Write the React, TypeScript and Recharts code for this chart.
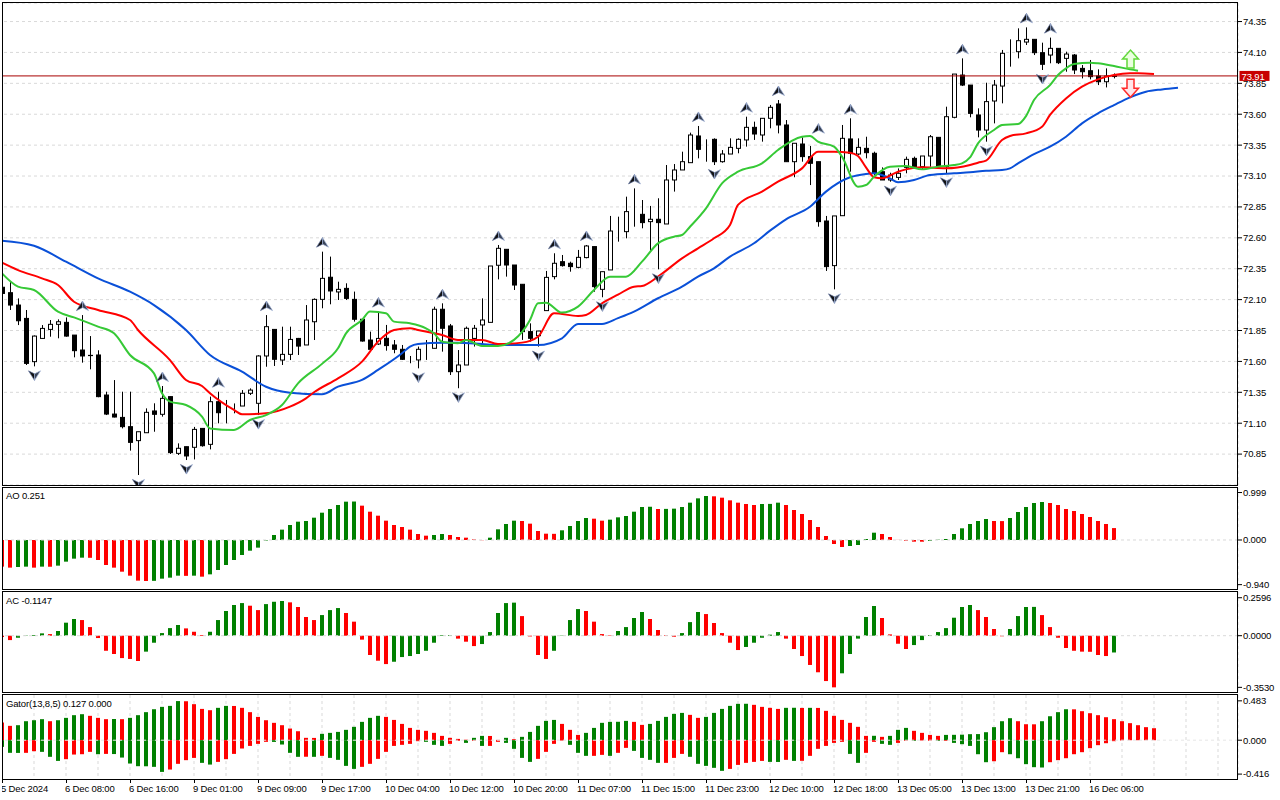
import React from "react";
import {
  ComposedChart,
  Bar,
  Line,
  XAxis,
  YAxis,
  CartesianGrid,
  ReferenceLine,
  Cell,
} from "recharts";

const FONT = '"Liberation Sans", Arial, sans-serif';
const UP = "#008000";
const DOWN = "#ff0000";
const GRID = "#d9d9d9";

// hourly candles, bar 0 .. 139
const OPEN = [
  72.2, 72.156, 72.056, 71.948, 71.598, 71.786, 71.859, 71.9, 71.916, 71.813,
  71.692, 71.647, 71.652, 71.328, 71.174, 71.147, 71.072, 70.959, 71.023, 71.199,
  71.172, 71.315, 70.856, 70.91, 70.905, 71.058, 70.929, 71.274, 71.226, 71.22,
  71.239, 71.342, 71.261, 71.644, 71.859, 71.611, 71.657, 71.786, 71.733, 71.921,
  72.102, 72.281, 72.162, 72.191, 72.102, 71.941, 71.773, 71.741, 71.787, 71.733,
  71.698, 71.617, 71.612, 71.698, 71.706, 72.022, 71.887, 71.517, 71.571, 71.786,
  71.895, 71.916, 72.378, 72.507, 72.38, 72.224, 71.841, 71.808, 72.011, 72.286,
  72.407, 72.394, 72.361, 72.44, 72.529, 72.183, 72.34, 72.658, 72.65, 72.798,
  72.79, 72.731, 72.75, 72.712, 73.068, 73.149, 73.208, 73.424, 73.324, 73.397,
  73.216, 73.278, 73.324, 73.392, 73.494, 73.432, 73.567, 73.683, 73.513, 73.216,
  73.359, 73.257, 73.216, 72.736, 72.375, 72.779, 73.4, 73.278, 73.324, 73.284,
  73.135, 73.068, 73.089, 73.17, 73.243, 73.176, 73.262, 73.413, 73.176, 73.575,
  73.917, 73.836, 73.594, 73.472, 73.707, 73.828, 74.1, 74.106, 74.184, 74.206,
  74.098, 74.079, 74.133, 74.052, 74.079, 73.971, 73.952, 73.909, 73.863, 73.905,
];
const HIGH = [
  72.24, 72.245, 72.11, 72.016, 71.81, 71.894, 71.935, 71.94, 71.956, 71.813,
  71.975, 71.805, 71.69, 71.355, 71.449, 71.355, 71.355, 71.031, 71.22, 71.261,
  71.401, 71.315, 70.937, 70.91, 71.07, 71.058, 71.315, 71.355, 71.288, 71.26,
  71.368, 71.382, 71.65, 71.975, 71.86, 71.881, 71.881, 71.79, 72.056, 72.11,
  72.488, 72.448, 72.245, 72.232, 72.165, 71.941, 71.841, 72.003, 71.895, 71.773,
  71.733, 71.644, 71.72, 71.773, 72.043, 72.07, 71.903, 71.692, 71.882, 71.895,
  72.11, 72.372, 72.542, 72.507, 72.38, 72.224, 71.908, 71.846, 72.332, 72.475,
  72.461, 72.407, 72.502, 72.542, 72.529, 72.326, 72.777, 72.771, 72.933, 73.0,
  72.906, 72.858, 72.92, 73.189, 73.197, 73.297, 73.451, 73.505, 73.397, 73.405,
  73.31, 73.405, 73.405, 73.58, 73.54, 73.567, 73.675, 73.715, 73.553, 73.365,
  73.413, 73.343, 73.216, 72.777, 72.777, 73.513, 73.567, 73.405, 73.418, 73.297,
  73.17, 73.127, 73.162, 73.257, 73.257, 73.262, 73.432, 73.413, 73.661, 73.925,
  74.052, 73.836, 73.648, 73.855, 73.877, 74.12, 74.206, 74.295, 74.303, 74.206,
  74.179, 74.22, 74.133, 74.106, 74.087, 73.998, 74.039, 73.963, 73.971, 73.93,
];
const LOW = [
  72.12, 72.016, 71.894, 71.571, 71.56, 71.786, 71.8, 71.787, 71.8, 71.633,
  71.59, 71.536, 71.31, 71.166, 71.147, 71.058, 70.878, 70.681, 71.023, 71.031,
  71.153, 70.851, 70.843, 70.802, 70.807, 70.91, 70.888, 71.099, 71.099, 71.18,
  71.239, 71.328, 71.166, 71.557, 71.563, 71.571, 71.611, 71.652, 71.733, 71.773,
  72.03, 72.062, 72.097, 72.097, 71.922, 71.76, 71.687, 71.733, 71.687, 71.666,
  71.612, 71.585, 71.544, 71.612, 71.706, 71.679, 71.49, 71.383, 71.571, 71.72,
  71.72, 71.916, 72.264, 72.286, 72.178, 71.774, 71.76, 71.72, 72.011, 72.264,
  72.367, 72.326, 72.353, 72.434, 72.164, 72.119, 72.34, 72.569, 72.596, 72.69,
  72.677, 72.496, 72.345, 72.712, 72.974, 73.149, 73.208, 73.243, 73.216, 73.189,
  73.208, 73.278, 73.284, 73.338, 73.392, 73.378, 73.486, 73.445, 73.216, 73.09,
  73.216, 73.027, 72.69, 72.332, 72.183, 72.779, 73.135, 73.27, 73.243, 73.108,
  73.068, 73.054, 73.068, 73.122, 73.162, 73.149, 73.176, 73.162, 73.122, 73.567,
  73.828, 73.575, 73.413, 73.378, 73.526, 73.688, 73.985, 74.052, 74.16, 74.079,
  73.958, 74.012, 74.006, 73.944, 73.925, 73.89, 73.882, 73.836, 73.817, 73.89,
];
const CLOSE = [
  72.15, 72.056, 71.929, 71.584, 71.805, 71.867, 71.9, 71.921, 71.805, 71.687,
  71.644, 71.649, 71.315, 71.174, 71.15, 71.072, 70.945, 71.031, 71.188, 71.172,
  71.301, 70.862, 70.897, 70.835, 71.05, 70.918, 71.274, 71.185, 71.226, 71.22,
  71.342, 71.368, 71.644, 71.881, 71.617, 71.657, 71.778, 71.724, 71.935, 72.102,
  72.272, 72.17, 72.183, 72.11, 71.941, 71.765, 71.698, 71.786, 71.728, 71.698,
  71.617, 71.617, 71.698, 71.698, 72.022, 71.868, 71.517, 71.571, 71.868, 71.868,
  71.935, 72.372, 72.515, 72.38, 72.218, 71.841, 71.787, 71.846, 72.28, 72.394,
  72.375, 72.367, 72.442, 72.534, 72.205, 72.326, 72.655, 72.658, 72.812, 72.798,
  72.723, 72.75, 72.723, 73.068, 73.149, 73.216, 73.432, 73.316, 73.324, 73.216,
  73.278, 73.332, 73.397, 73.494, 73.44, 73.567, 73.656, 73.513, 73.216, 73.365,
  73.257, 73.203, 72.731, 72.367, 72.777, 73.405, 73.284, 73.332, 73.289, 73.122,
  73.068, 73.108, 73.122, 73.235, 73.176, 73.262, 73.418, 73.176, 73.58, 73.925,
  73.836, 73.607, 73.472, 73.702, 73.836, 74.093, 74.1, 74.195, 74.206, 74.098,
  74.004, 74.133, 74.017, 74.087, 73.958, 73.944, 73.904, 73.863, 73.909, 73.91,
];
const LAST_PRICE = 73.91;

// Alligator lines, [bar, price] as read (jaw +8, teeth +5, lips +3 bars shifted)
const JAW: [number, number][] = [
  [0, 72.577], [4, 72.536], [8, 72.407], [12, 72.272], [16, 72.164], [19, 72.056],
  [23, 71.854], [26, 71.652], [30, 71.517], [33, 71.395], [36, 71.347], [40, 71.334],
  [42, 71.396], [45, 71.45], [47, 71.531], [50, 71.666], [51, 71.72], [52, 71.741],
  [55, 71.752], [57, 71.752], [60, 71.741], [62, 71.733], [65, 71.733], [67, 71.733],
  [70, 71.787], [72, 71.903], [75, 71.903], [77, 71.95], [79, 72.003], [82, 72.111],
  [85, 72.205], [87, 72.286], [89, 72.353], [91, 72.448], [94, 72.556], [96, 72.658],
  [98, 72.75], [101, 72.852], [103, 72.974], [106, 73.09], [108, 73.117], [109, 73.122],
  [111, 73.081], [112, 73.05], [114, 73.068], [116, 73.108], [119, 73.122], [121, 73.13],
  [123, 73.143], [125, 73.149], [126, 73.162], [127, 73.202], [129, 73.278], [131, 73.337],
  [133, 73.418], [135, 73.526], [137, 73.607], [139, 73.674], [141, 73.737], [143, 73.782],
  [145, 73.801], [147, 73.815],
];
const TEETH: [number, number][] = [
  [0, 72.399], [2, 72.339], [5, 72.272], [7, 72.218], [9, 72.083], [12, 72.016],
  [16, 71.935], [17, 71.854], [21, 71.611], [23, 71.45], [25, 71.401], [26, 71.342],
  [29, 71.207], [30, 71.172], [33, 71.18], [36, 71.234], [38, 71.301], [39, 71.35],
  [42, 71.463], [45, 71.598], [47, 71.76], [49, 71.854], [51, 71.868], [52, 71.854],
  [55, 71.814], [57, 71.774], [60, 71.774], [62, 71.741], [65, 71.752], [67, 71.8],
  [69, 71.989], [72, 71.968], [73, 71.976], [75, 72.07], [77, 72.14], [79, 72.205],
  [80, 72.21], [82, 72.286], [85, 72.434], [87, 72.515], [89, 72.596], [91, 72.704],
  [92, 72.866], [95, 72.974], [97, 73.054], [100, 73.162], [102, 73.297], [104, 73.297],
  [106, 73.289], [107, 73.262], [108, 73.17], [109, 73.09], [110, 73.081], [112, 73.135],
  [113, 73.154], [115, 73.17], [118, 73.162], [121, 73.189], [122, 73.208], [123, 73.224],
  [125, 73.391], [126, 73.424], [128, 73.445], [130, 73.499], [131, 73.594], [133, 73.728],
  [135, 73.823], [137, 73.882], [139, 73.917], [141, 73.931], [142, 73.931], [144, 73.925],
];
const LIPS: [number, number][] = [
  [0, 72.312], [2, 72.205], [4, 72.178], [7, 72.002], [9, 71.956], [12, 71.881],
  [14, 71.827], [16, 71.652], [19, 71.503], [20, 71.342], [21, 71.274], [23, 71.247],
  [25, 71.153], [26, 71.058], [29, 71.045], [31, 71.126], [33, 71.166], [35, 71.247],
  [37, 71.422], [40, 71.58], [42, 71.706], [43, 71.827], [45, 71.935], [46, 72.003],
  [48, 71.989], [49, 71.922], [51, 71.908], [53, 71.868], [54, 71.827], [55, 71.76],
  [57, 71.747], [58, 71.774], [60, 71.725], [62, 71.725], [64, 71.774], [66, 71.935],
  [67, 72.07], [68, 72.075], [70, 71.995], [72, 72.043], [74, 72.178], [76, 72.286],
  [78, 72.286], [80, 72.407], [82, 72.555], [84, 72.609], [85, 72.623], [86, 72.69],
  [88, 72.839], [90, 73.041], [92, 73.135], [95, 73.203], [97, 73.311], [100, 73.418],
  [101, 73.424], [102, 73.378], [104, 73.338], [105, 73.257], [107, 73.014], [108, 73.027],
  [109, 73.095], [111, 73.176], [113, 73.181], [115, 73.154], [117, 73.176], [119, 73.189],
  [120, 73.203], [121, 73.251], [122, 73.364], [124, 73.472], [125, 73.513], [127, 73.521],
  [128, 73.585], [129, 73.715], [131, 73.836], [132, 73.917], [133, 73.971], [134, 74.006],
  [136, 74.017], [137, 74.012], [139, 73.99], [141, 73.963], [142, 73.952],
];

// fractals: [bar, high/low]
const FRACTAL_UP: [number, number][] = [
  [10, 71.975], [20, 71.401], [27, 71.355], [33, 71.975], [40, 72.488], [47, 72.003],
  [55, 72.07], [62, 72.542], [69, 72.475], [73, 72.542], [79, 73.0], [87, 73.505],
  [93, 73.58], [97, 73.715], [102, 73.41], [106, 73.567], [120, 74.052], [128, 74.303],
  [131, 74.22],
];
const FRACTAL_DOWN: [number, number][] = [
  [4, 71.56], [17, 70.681], [23, 70.802], [32, 71.166], [52, 71.544], [57, 71.383],
  [67, 71.72], [75, 72.119], [82, 72.345], [89, 73.189], [104, 72.183], [111, 73.054],
  [118, 73.122], [123, 73.378], [130, 73.958],
];
const SIGNAL_UP: [number, number][] = [[141, 73.974]];
const SIGNAL_DOWN: [number, number][] = [[141, 73.883]];

const AO = [
  -0.561, -0.582, -0.568, -0.561, -0.582, -0.561, -0.563, -0.54, -0.456, -0.393,
  -0.372, -0.375, -0.421, -0.526, -0.582, -0.667, -0.751, -0.856, -0.863, -0.86,
  -0.814, -0.793, -0.751, -0.755, -0.751, -0.772, -0.723, -0.632, -0.526, -0.421,
  -0.316, -0.225, -0.161, -0.01, 0.105, 0.218, 0.316, 0.386, 0.4, 0.47,
  0.575, 0.653, 0.737, 0.807, 0.81, 0.723, 0.596, 0.512, 0.407, 0.316,
  0.274, 0.218, 0.126, 0.091, 0.105, 0.126, 0.105, 0.063, 0.049, 0.012,
  -0.004, 0.049, 0.225, 0.337, 0.407, 0.4, 0.344, 0.189, 0.133, 0.13,
  0.204, 0.295, 0.4, 0.463, 0.449, 0.407, 0.428, 0.477, 0.505, 0.596,
  0.695, 0.7, 0.653, 0.655, 0.66, 0.695, 0.786, 0.877, 0.926, 0.92,
  0.891, 0.835, 0.786, 0.758, 0.737, 0.758, 0.76, 0.786, 0.737, 0.632,
  0.547, 0.421, 0.274, 0.084, -0.084, -0.147, -0.126, -0.105, 0.021, 0.154,
  0.126, 0.063, 0.002, -0.014, -0.035, -0.036, -0.018, 0.006, 0.021, 0.126,
  0.246, 0.337, 0.4, 0.442, 0.4, 0.398, 0.463, 0.589, 0.695, 0.779,
  0.8, 0.779, 0.737, 0.653, 0.611, 0.547, 0.484, 0.4, 0.337, 0.251,
];
const AO_COLORS =
  "rrggrgrggg" + "grrrrrrrrg" + "gggrgrgggg" + "gggggggggg" + "gggggrrrrr" +
  "rrrrggrrrr" + "rggggrrrrr" + "ggggrrgggg" + "ggrggggggr" + "rrrrrgggrr" +
  "rrrrrrgggg" + "rrrrrrgggg" + "ggggrrgggg" + "grrrrrrrrr";

const AC = [
  -0.009, -0.03, -0.014, 0.002, 0.005, 0.016, 0.011, 0.032, 0.089, 0.114,
  0.107, 0.059, -0.016, -0.103, -0.125, -0.153, -0.159, -0.173, -0.109, -0.048,
  0.018, 0.052, 0.073, 0.05, 0.027, 0.005, 0.027, 0.107, 0.169, 0.21,
  0.223, 0.205, 0.175, 0.216, 0.232, 0.237, 0.228, 0.196, 0.128, 0.107,
  0.141, 0.175, 0.189, 0.155, 0.096, -0.027, -0.132, -0.171, -0.194, -0.178,
  -0.146, -0.139, -0.125, -0.103, -0.048, 0.004, 0.005, -0.02, -0.041, -0.071,
  -0.057, 0.025, 0.155, 0.223, 0.226, 0.134, -0.005, -0.132, -0.159, -0.103,
  0.002, 0.107, 0.182, 0.169, 0.096, 0.011, 0.003, 0.032, 0.059, 0.121,
  0.162, 0.114, 0.039, 0.004, -0.007, 0.018, 0.093, 0.162, 0.148, 0.087,
  0.018, -0.048, -0.098, -0.077, -0.048, -0.014, 0.007, 0.025, -0.02, -0.091,
  -0.139, -0.2, -0.25, -0.31, -0.353, -0.257, -0.125, -0.02, 0.128, 0.203,
  0.121, 0.009, -0.055, -0.091, -0.064, -0.03, 0.005, 0.025, 0.052, 0.123,
  0.196, 0.21, 0.175, 0.128, 0.046, -0.004, 0.046, 0.134, 0.196, 0.197,
  0.141, 0.059, -0.014, -0.084, -0.103, -0.109, -0.11, -0.132, -0.139, -0.1147,
];
const AC_COLORS =
  "rrggggrggg" + "rrrrrrrrgg" + "gggrrrgggg" + "grrgggrrrr" + "gggrrrrrrg" +
  "gggggggrrr" + "gggggrrrrg" + "gggrrrrggg" + "grrrrgggrr" + "rrrgggggrr" +
  "rrrrrggggg" + "rrrrgggggg" + "ggrrrrgggg" + "rrrrrrrrrg";

const GATOR_UP = [
  0.217, 0.176, 0.184, 0.233, 0.245, 0.258, 0.233, 0.245, 0.274, 0.307,
  0.319, 0.299, 0.274, 0.258, 0.26, 0.258, 0.274, 0.307, 0.344, 0.38,
  0.409, 0.421, 0.48, 0.478, 0.442, 0.384, 0.368, 0.397, 0.421, 0.42,
  0.397, 0.344, 0.286, 0.245, 0.213, 0.184, 0.143, 0.11, 0.029, 0.028,
  0.078, 0.09, 0.102, 0.127, 0.164, 0.225, 0.274, 0.299, 0.286, 0.249,
  0.2, 0.151, 0.127, 0.115, 0.09, 0.053, 0.029, 0.016, 0.006, 0.029,
  0.053, 0.052, 0.004, 0.029, 0.012, 0.041, 0.102, 0.176, 0.237, 0.249,
  0.2, 0.127, 0.065, 0.09, 0.151, 0.213, 0.225, 0.226, 0.237, 0.225,
  0.188, 0.2, 0.237, 0.286, 0.323, 0.335, 0.311, 0.274, 0.286, 0.335,
  0.384, 0.421, 0.446, 0.447, 0.434, 0.409, 0.397, 0.384, 0.397, 0.398,
  0.396, 0.397, 0.396, 0.36, 0.299, 0.249, 0.213, 0.164, 0.053, 0.054,
  0.041, 0.053, 0.127, 0.151, 0.115, 0.09, 0.065, 0.053, 0.065, 0.066,
  0.068, 0.074, 0.075, 0.098, 0.16, 0.233, 0.27, 0.233, 0.196, 0.195,
  0.233, 0.294, 0.344, 0.38, 0.379, 0.356, 0.331, 0.307, 0.282, 0.258,
  0.233, 0.209, 0.184, 0.16, 0.147,
];
const GATOR_UP_COLORS =
  "rrggggrggg" + "grrrgrgggg" + "gggrrrrggr" + "rrrrrrrrrr" + "ggggggggrr" +
  "rrrrrrrrrg" + "grrgrggggg" + "rrrggggggr" + "rgggggrrgg" + "ggggrrrrgg" +
  "rgrrrrrrrg" + "rgggrrrrgg" + "gggggggrrr" + "ggggrrrrrr" + "rrrrr";
const GATOR_DOWN = [
  -0.082, -0.155, -0.156, -0.155, -0.135, -0.143, -0.204, -0.254, -0.233, -0.176,
  -0.172, -0.143, -0.172, -0.168, -0.17, -0.213, -0.286, -0.319, -0.32, -0.327,
  -0.389, -0.36, -0.29, -0.245, -0.217, -0.278, -0.299, -0.266, -0.233, -0.168,
  -0.102, -0.07, -0.045, -0.02, -0.021, -0.053, -0.155, -0.204, -0.203, -0.204,
  -0.192, -0.217, -0.241, -0.315, -0.352, -0.327, -0.29, -0.229, -0.143, -0.07,
  -0.057, -0.045, -0.012, -0.02, -0.057, -0.07, -0.045, -0.008, -0.033, -0.008,
  -0.07, -0.07, -0.02, -0.033, -0.106, -0.217, -0.266, -0.229, -0.143, -0.045,
  -0.005, -0.057, -0.155, -0.192, -0.192, -0.18, -0.192, -0.155, -0.094, -0.131,
  -0.217, -0.241, -0.278, -0.278, -0.217, -0.168, -0.204, -0.29, -0.315, -0.339,
  -0.376, -0.352, -0.303, -0.278, -0.266, -0.254, -0.266, -0.267, -0.241, -0.254,
  -0.253, -0.192, -0.106, -0.07, -0.033, -0.02, -0.168, -0.278, -0.155, -0.02,
  -0.045, -0.057, -0.033, -0.008, -0.008, -0.004, -0.008, -0.008, -0.008, -0.033,
  -0.049, -0.07, -0.172, -0.27, -0.258, -0.147, -0.172, -0.221, -0.294, -0.331,
  -0.335, -0.27, -0.245, -0.221, -0.172, -0.147, -0.098, -0.061, -0.037, -0.012,
  -0.004,
];
const GATOR_DOWN_COLORS =
  "gggrrgggrr" + "rrgrgggggg" + "grrrrggrrr" + "rrrrggggrg" + "rggggrrrrr" +
  "rrrgggrrgr" + "grrggggrrr" + "rgggrrgrrg" + "gggrrrgggg" + "grrrrrggrg" +
  "rrrrrrggrr" + "ggrrgrrgrg" + "ggggrrgggg" + "grrrrrrrrr" + "r";
const GATOR_LAST = [0.127, 0.0];

const PRICE_TICKS = [
  74.35, 74.1, 73.85, 73.6, 73.35, 73.1, 72.85, 72.6, 72.35, 72.1, 71.85, 71.6,
  71.35, 71.1, 70.85,
];
const AO_TICKS = [0.999, 0, -0.94];
const AC_TICKS = [0.2596, 0, -0.353];
const GATOR_TICKS = [0.483, 0, -0.416];

// one label every 8 bars, starting at bar 0
const TIME_LABELS = [
  "5 Dec 2024", "6 Dec 08:00", "6 Dec 16:00", "9 Dec 01:00", "9 Dec 09:00",
  "9 Dec 17:00", "10 Dec 04:00", "10 Dec 12:00", "10 Dec 20:00", "11 Dec 07:00",
  "11 Dec 15:00", "11 Dec 23:00", "12 Dec 10:00", "12 Dec 18:00", "13 Dec 05:00",
  "13 Dec 13:00", "13 Dec 21:00", "16 Dec 06:00",
];

const SLOTS = 155;
const KEYS = Array.from({ length: SLOTS }, (_, k) => k);
const GRID_TICKS = KEYS.filter((k) => k % 4 === 0);

const at = (pairs: [number, number][], k: number) => {
  const hit = pairs.find((p) => p[0] === k);
  return hit ? hit[1] : null;
};
const col = (s: string, k: number) => (s[k] === "g" ? UP : DOWN);

const mainData = KEYS.map((k) => ({
  k,
  o: OPEN[k] ?? null,
  h: HIGH[k] ?? null,
  l: LOW[k] ?? null,
  c: CLOSE[k] ?? null,
  range: OPEN[k] == null ? null : [LOW[k], HIGH[k]],
  jaw: at(JAW, k),
  teeth: at(TEETH, k),
  lips: at(LIPS, k),
  fu: at(FRACTAL_UP, k),
  fd: at(FRACTAL_DOWN, k),
  su: at(SIGNAL_UP, k),
  sd: at(SIGNAL_DOWN, k),
}));
const aoData = KEYS.map((k) => ({ k, v: AO[k] ?? null, fill: col(AO_COLORS, k) }));
const acData = KEYS.map((k) => ({ k, v: AC[k] ?? null, fill: col(AC_COLORS, k) }));
const gatorData = KEYS.map((k) => ({
  k,
  gu: GATOR_UP[k] ?? null,
  gd: GATOR_DOWN[k] ?? null,
  guc: col(GATOR_UP_COLORS, k),
  gdc: col(GATOR_DOWN_COLORS, k),
}));

const Candle = (props: any) => {
  const { x, y, width, height, payload } = props;
  if (!payload || payload.o == null || y == null) return <g />;
  const { o, h, l, c } = payload;
  const cx = Math.round(x + width / 2);
  const ppu = h > l ? height / (h - l) : 0;
  const top = y + (h - Math.max(o, c)) * ppu;
  const bot = y + (h - Math.min(o, c)) * ppu;
  return (
    <g>
      <line x1={cx + 0.5} x2={cx + 0.5} y1={y} y2={y + height} stroke="#000" strokeWidth={1} />
      <rect
        x={cx - 1.5}
        y={top}
        width={4}
        height={Math.max(bot - top, 0)}
        fill={c >= o ? "#fff" : "#000"}
        stroke="#000"
        strokeWidth={1}
      />
    </g>
  );
};

const GatorBar = (props: any) => {
  const { x, y, width, height, payload } = props;
  if (!payload || y == null) return <g />;
  const up = payload.gu ?? 0;
  const dn = payload.gd ?? 0;
  if (up === dn) return <g />;
  const ppu = height / (up - dn);
  const zero = y + up * ppu;
  const bx = Math.round(x + width / 2) - 2;
  return (
    <g>
      {up > 0 && <rect x={bx} y={y} width={4} height={zero - y} fill={payload.guc} />}
      {dn < 0 && <rect x={bx} y={zero} width={4} height={y + height - zero} fill={payload.gdc} />}
    </g>
  );
};

// arrowhead above a high (dir -1) or below a low (dir 1)
const fractalDot = (dir: number) => (p: any) => {
  const { cx, cy, index } = p;
  if (cy == null || cx == null || Number.isNaN(cy)) return <g key={`f${dir}${index}`} />;
  const x = Math.round(cx) + 0.5;
  const m = cy + dir * 9;
  const s = -dir;
  const left = `M${x},${m - s * 5} L${x},${m + s * 1.5} L${x - 6},${m + s * 4.5} Z`;
  const right = `M${x},${m - s * 5} L${x + 6},${m + s * 4.5} L${x},${m + s * 1.5} Z`;
  return (
    <g key={`f${dir}${index}`}>
      <path d={left} fill="#111" stroke="#5d6f99" strokeWidth={0.7} strokeLinejoin="round" />
      <path d={right} fill="#3a4458" stroke="#9fb0d6" strokeWidth={0.7} strokeLinejoin="round" />
    </g>
  );
};

const signalDot = (dir: number) => (p: any) => {
  const { cx, cy, index } = p;
  if (cy == null || cx == null || Number.isNaN(cy)) return <g key={`s${dir}${index}`} />;
  const x = Math.round(cx) + 0.5;
  const s = dir; // -1 points up, +1 points down
  const d = `M${x - 3.5},${cy} L${x - 3.5},${cy + s * 9} L${x - 8},${cy + s * 9} L${x},${cy + s * 18} L${x + 8},${cy + s * 9} L${x + 3.5},${cy + s * 9} L${x + 3.5},${cy} Z`;
  return (
    <path
      key={`s${dir}${index}`}
      d={d}
      fill={dir < 0 ? "#eaffdf" : "#ffe6ea"}
      stroke={dir < 0 ? "#62d83a" : "#ff2b2b"}
      strokeWidth={1.5}
    />
  );
};

const PriceTag = (props: any) => {
  const vb = props.viewBox;
  if (!vb) return null;
  const x = vb.x + vb.width + 1.5;
  return (
    <g>
      <rect x={x} y={vb.y - 5} width={30} height={10} fill="#c80000" />
      <text x={x + 2} y={vb.y + 3.6} fill="#fff" fontSize={9.5} fontFamily={FONT} letterSpacing={-0.15}>
        {LAST_PRICE.toFixed(2)}
      </text>
    </g>
  );
};

const TimeTick = (props: any) => {
  const { x, y, payload } = props;
  const k = payload.value;
  const label = k % 8 === 0 ? TIME_LABELS[k / 8] : undefined;
  if (!label) return <g />;
  const tx = Math.round(x) + 0.5;
  return (
    <g>
      <line x1={tx} x2={tx} y1={y} y2={y + 4} stroke="#000" />
      <text x={tx - 1.5} y={y + 13} fontSize={9.5} fontFamily={FONT} fill="#000" letterSpacing={-0.15}>
        {label}
      </text>
    </g>
  );
};

const tickStyle = { fill: "#000", fontSize: 9.5, fontFamily: FONT, letterSpacing: -0.15 };
const CHART_W = 1284; // 155 bars * 8px plot + 44px price axis

const priceAxis = (domain: number[], ticks: number[], digits: number) => (
  <YAxis
    orientation="right"
    width={44}
    type="number"
    domain={domain}
    allowDataOverflow
    ticks={ticks}
    interval={0}
    tickFormatter={(v: number) => v.toFixed(digits)}
    axisLine={false}
    tickLine={{ stroke: "#000" }}
    tickSize={4}
    tickMargin={1}
    tick={tickStyle}
  />
);

const gridAxis = (
  <XAxis
    dataKey="k"
    ticks={GRID_TICKS}
    interval={0}
    tick={false}
    tickLine={false}
    axisLine={false}
    height={0}
  />
);

const frame = (top: number, height: number): React.CSSProperties => ({
  position: "absolute",
  left: 2,
  top,
  width: 1236,
  height,
  border: "1px solid #000",
  boxSizing: "border-box",
  pointerEvents: "none",
});

const title = (top: number): React.CSSProperties => ({
  position: "absolute",
  left: 6,
  top,
  fontFamily: FONT,
  fontSize: 9.5,
  lineHeight: "10px",
  letterSpacing: -0.15,
  color: "#000",
  whiteSpace: "nowrap",
});

export default function App() {
  return (
    <div
      style={{
        position: "fixed",
        left: 0,
        top: 0,
        width: 1280,
        height: 800,
        overflow: "hidden",
        background: "#fff",
      }}
    >
      {/* price pane */}
      <div style={{ position: "absolute", left: -2, top: 0 }}>
        <ComposedChart width={CHART_W} height={490} data={mainData} margin={{ top: 3, right: 0, bottom: 5, left: 0 }}>
          <CartesianGrid stroke={GRID} strokeDasharray="3 3" />
          {gridAxis}
          {priceAxis([70.6, 74.5], PRICE_TICKS, 2)}
          <Bar dataKey="range" shape={(p: any) => <Candle {...p} />} isAnimationActive={false} />
          <ReferenceLine y={LAST_PRICE} stroke="#a80000" strokeWidth={1} label={<PriceTag />} />
          <Line type="monotone" dataKey="jaw" stroke="#0a50d8" strokeWidth={2} dot={false} activeDot={false} connectNulls isAnimationActive={false} />
          <Line type="monotone" dataKey="teeth" stroke="#ff0000" strokeWidth={2} dot={false} activeDot={false} connectNulls isAnimationActive={false} />
          <Line type="monotone" dataKey="lips" stroke="#36c936" strokeWidth={2} dot={false} activeDot={false} connectNulls isAnimationActive={false} />
          <Line dataKey="fu" stroke="none" dot={fractalDot(-1)} activeDot={false} isAnimationActive={false} />
          <Line dataKey="fd" stroke="none" dot={fractalDot(1)} activeDot={false} isAnimationActive={false} />
          <Line dataKey="su" stroke="none" dot={signalDot(-1)} activeDot={false} isAnimationActive={false} />
          <Line dataKey="sd" stroke="none" dot={signalDot(1)} activeDot={false} isAnimationActive={false} />
        </ComposedChart>
      </div>

      {/* AO */}
      <div style={{ position: "absolute", left: -2, top: 480 }}>
        <ComposedChart width={CHART_W} height={118} data={aoData} margin={{ top: 8, right: 0, bottom: 9, left: 0 }}>
          <CartesianGrid stroke={GRID} strokeDasharray="3 3" horizontal={false} />
          {gridAxis}
          {priceAxis([-1.0316, 1.0947], AO_TICKS, 3)}
          <Bar dataKey="v" barSize={4} isAnimationActive={false}>
            {aoData.map((d) => (
              <Cell key={d.k} fill={d.fill} />
            ))}
          </Bar>
          <ReferenceLine y={0} stroke={GRID} strokeDasharray="3 3" />
        </ComposedChart>
      </div>

      {/* AC */}
      <div style={{ position: "absolute", left: -2, top: 584 }}>
        <ComposedChart width={CHART_W} height={116} data={acData} margin={{ top: 8, right: 0, bottom: 8, left: 0 }}>
          <CartesianGrid stroke={GRID} strokeDasharray="3 3" horizontal={false} />
          {gridAxis}
          {priceAxis([-0.3848, 0.2987], AC_TICKS, 4)}
          <Bar dataKey="v" barSize={4} isAnimationActive={false}>
            {acData.map((d) => (
              <Cell key={d.k} fill={d.fill} />
            ))}
          </Bar>
          <ReferenceLine y={0} stroke={GRID} strokeDasharray="3 3" />
        </ComposedChart>
      </div>

      {/* Gator */}
      <div style={{ position: "absolute", left: -2, top: 687 }}>
        <ComposedChart width={CHART_W} height={113} data={gatorData} margin={{ top: 8, right: 0, bottom: 0, left: 0 }}>
          <CartesianGrid stroke={GRID} strokeDasharray="3 3" horizontal={false} />
          <XAxis
            dataKey="k"
            ticks={GRID_TICKS}
            interval={0}
            tick={<TimeTick />}
            tickLine={false}
            axisLine={false}
            tickSize={0}
            tickMargin={0}
            height={21}
          />
          {priceAxis([-0.4761, 0.5546], GATOR_TICKS, 3)}
          <Bar
            dataKey={(d: any) => (d.gu == null && d.gd == null ? null : [d.gd ?? 0, d.gu ?? 0])}
            shape={(p: any) => <GatorBar {...p} />}
            isAnimationActive={false}
          />
          <ReferenceLine y={0} stroke="#e6e6e6" strokeDasharray="3 3" />
        </ComposedChart>
      </div>

      <div style={{ position: "absolute", left: 0, top: 0, width: 2, height: 800, background: "#fff" }} />
      <div style={frame(2, 484)} />
      <div style={frame(487, 103)} />
      <div style={frame(591, 102)} />
      <div style={frame(694, 86)} />

      <div style={title(491)}>AO {AO[AO.length - 1].toFixed(3)}</div>
      <div style={title(596)}>AC {AC[AC.length - 1].toFixed(4)}</div>
      <div style={title(699)}>
        Gator(13,8,5) {GATOR_LAST[0].toFixed(3)} {GATOR_LAST[1].toFixed(3)}
      </div>
    </div>
  );
}
